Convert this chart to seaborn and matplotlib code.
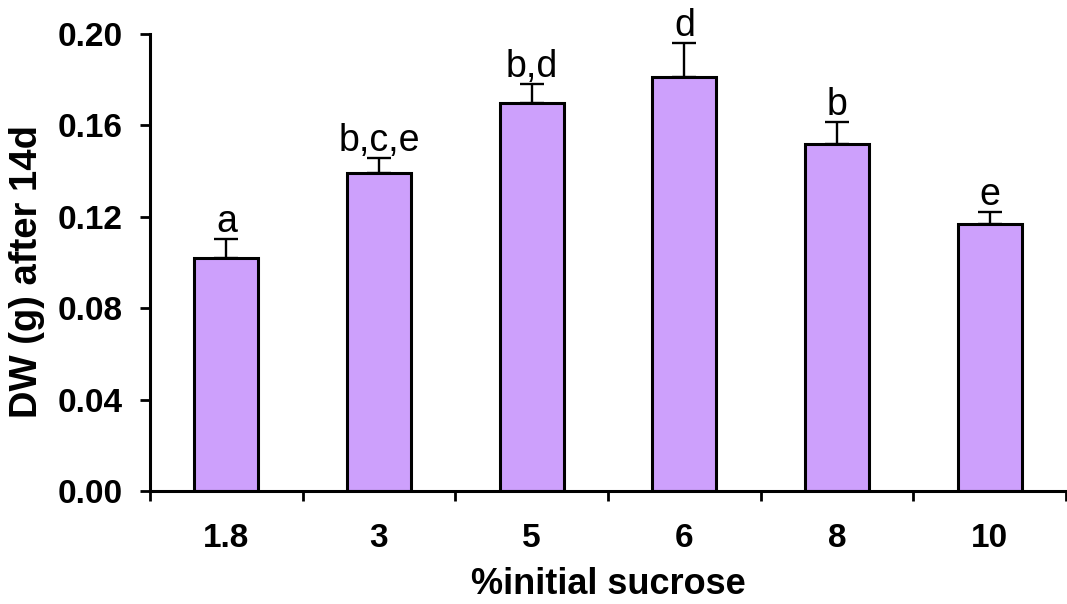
import matplotlib
matplotlib.use("Agg")
import matplotlib.pyplot as plt
import seaborn as sns
import numpy as np
import pandas as pd

categories = ["1.8", "3", "5", "6", "8", "10"]
dw_means = [0.102, 0.139, 0.170, 0.181, 0.152, 0.117]
dw_err = [0.0083, 0.0067, 0.0080, 0.0150, 0.0097, 0.0053]
letters = ["a", "b,c,e", "b,d", "d", "b", "e"]
yticks = [0.00, 0.04, 0.08, 0.12, 0.16, 0.20]

sns.set_theme(style="white")
plt.rcParams['font.family'] = ['Liberation Sans', 'DejaVu Sans']

df = pd.DataFrame({"sucrose": categories, "dw": dw_means})

fig = plt.figure(figsize=(10.67, 6.04), dpi=100)
ax = fig.add_axes([150/1067, 113/604, 916/1067, 457/604])

sns.barplot(data=df, x="sucrose", y="dw", order=categories, color="#CDA0FC",
            saturation=1, width=0.42, edgecolor="black", linewidth=2.2,
            errorbar=None, ax=ax)

xpos = np.arange(len(categories))
ax.errorbar(xpos, dw_means, yerr=[np.zeros(len(dw_err)), dw_err], fmt="none",
            ecolor="black", elinewidth=1.7, capsize=8.3, capthick=1.7, zorder=1)

for x, m, e, lab in zip(xpos, dw_means, dw_err, letters):
    ax.annotate(lab, (x, m + e), xytext=(0, 5), textcoords="offset points",
                ha="center", va="baseline", fontsize=27, color="black")

ax.set_xlim(-0.5, len(categories) - 0.5)
ax.set_ylim(0, 0.20)
ax.set_yticks(yticks)
ax.set_yticklabels([f"{v:.2f}" for v in yticks])
ax.set_xticks(xpos)
ax.set_xticks(np.arange(len(categories) + 1) - 0.5, minor=True)

for s in ["top", "right"]:
    ax.spines[s].set_visible(False)
for s in ["left", "bottom"]:
    ax.spines[s].set_linewidth(2.2)
    ax.spines[s].set_color("black")

ax.tick_params(axis="y", which="major", direction="out", length=7.5, width=2,
               color="black", pad=12, labelsize=24, labelcolor="black", left=True)
ax.tick_params(axis="x", which="major", length=0, pad=23, labelsize=24,
               labelcolor="black", bottom=True)
ax.tick_params(axis="x", which="minor", direction="out", length=7.5, width=2,
               color="black", bottom=True)
for lbl in ax.get_xticklabels() + ax.get_yticklabels():
    lbl.set_fontweight("bold")

ax.set_xlabel("%initial sucrose", fontsize=26, fontweight="bold", color="black")
ax.set_ylabel("DW (g) after 14d", fontsize=27.5, fontweight="bold", color="black")
ax.xaxis.set_label_coords(0.5, (491 - 585) / 457)
ax.xaxis.label.set_va("center")
ax.yaxis.set_label_coords((27 - 150) / 916, (491 - 272) / 457)
ax.yaxis.label.set_va("center")

fig.savefig("out.png", dpi=100)
